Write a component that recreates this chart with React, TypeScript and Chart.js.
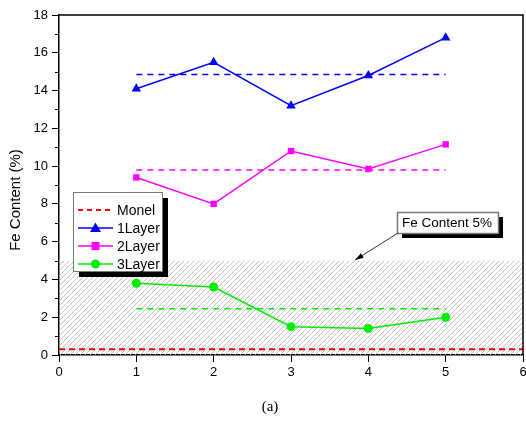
import React, { useEffect, useRef } from "react";
import { Chart, registerables } from "chart.js";

Chart.register(...registerables);

const xPositions = [1, 2, 3, 4, 5];
const layer1 = [14.1, 15.5, 13.2, 14.8, 16.8];
const layer2 = [9.4, 8.0, 10.8, 9.85, 11.15];
const layer3 = [3.8, 3.6, 1.5, 1.4, 2.0];
const mean1 = 14.85;
const mean2 = 9.8;
const mean3 = 2.45;
const monelValue = 0.3;
const limitValue = 5;
const yTitle = "Fe Content (%)";
const annotationText = "Fe Content 5%";
const caption = "(a)";
const FONT = "'Liberation Sans', Arial, sans-serif";

const BLUE = "#0000ff";
const MAGENTA = "#ff00ff";
const GREEN = "#00ee00";
const RED = "#ff0000";

function pts(vals: number[]) {
  return xPositions.map((x, i) => ({ x, y: vals[i] }));
}
function flat(v: number, x0: number, x1: number) {
  return [
    { x: x0, y: v },
    { x: x1, y: v },
  ];
}

const legendItems = [
  { label: "Monel", color: RED, dash: [5, 4], marker: "none" },
  { label: "1Layer", color: BLUE, dash: [], marker: "triangle" },
  { label: "2Layer", color: MAGENTA, dash: [], marker: "rect" },
  { label: "3Layer", color: GREEN, dash: [], marker: "circle" },
];

function drawMarker(ctx: CanvasRenderingContext2D, kind: string, x: number, y: number, color: string) {
  ctx.save();
  ctx.fillStyle = color;
  ctx.beginPath();
  if (kind === "triangle") {
    ctx.moveTo(x, y - 5.5);
    ctx.lineTo(x + 5.5, y + 4);
    ctx.lineTo(x - 5.5, y + 4);
    ctx.closePath();
    ctx.fill();
  } else if (kind === "rect") {
    ctx.fillRect(x - 4, y - 4, 8, 8);
  } else if (kind === "circle") {
    ctx.arc(x, y, 4.5, 0, Math.PI * 2);
    ctx.fill();
  }
  ctx.restore();
}

const decorPlugin = {
  id: "decor",
  beforeDatasetsDraw(chart: any) {
    const { ctx, chartArea, scales } = chart;
    const y5 = scales.y.getPixelForValue(limitValue);
    const y0 = scales.y.getPixelForValue(0);
    const pc = document.createElement("canvas");
    pc.width = 5;
    pc.height = 5;
    const p = pc.getContext("2d")!;
    p.strokeStyle = "#b4b4b4";
    p.lineWidth = 0.8;
    p.beginPath();
    p.moveTo(0, 5);
    p.lineTo(5, 0);
    p.moveTo(-1, 1);
    p.lineTo(1, -1);
    p.moveTo(4, 6);
    p.lineTo(6, 4);
    p.stroke();
    const pattern = ctx.createPattern(pc, "repeat");
    ctx.save();
    ctx.fillStyle = pattern;
    ctx.fillRect(chartArea.left, y5, chartArea.right - chartArea.left, y0 - y5);
    ctx.restore();
  },
  afterDraw(chart: any) {
    const { ctx, chartArea, scales } = chart;
    ctx.save();
    // frame top/right
    ctx.strokeStyle = "#000";
    ctx.lineWidth = 1.5;
    ctx.beginPath();
    ctx.moveTo(chartArea.left, chartArea.top);
    ctx.lineTo(chartArea.right, chartArea.top);
    ctx.lineTo(chartArea.right, chartArea.bottom);
    ctx.stroke();
    // minor y ticks
    ctx.lineWidth = 1;
    ctx.beginPath();
    for (let v = 1; v < 18; v += 2) {
      const y = Math.round(scales.y.getPixelForValue(v)) + 0.5;
      ctx.moveTo(chartArea.left, y);
      ctx.lineTo(chartArea.left - 4, y);
    }
    ctx.stroke();

    // y title
    ctx.save();
    ctx.translate(16, 200);
    ctx.rotate(-Math.PI / 2);
    ctx.fillStyle = "#000";
    ctx.font = `15px ${FONT}`;
    ctx.textAlign = "center";
    ctx.textBaseline = "middle";
    ctx.fillText(yTitle, 0, 0);
    ctx.restore();

    // legend
    const lx = 73, ly = 192, lw = 89, lh = 79;
    ctx.fillStyle = "#000";
    ctx.fillRect(lx + 6, ly + 6, lw, lh);
    ctx.fillStyle = "#fff";
    ctx.fillRect(lx, ly, lw, lh);
    ctx.strokeStyle = "#777";
    ctx.lineWidth = 1;
    ctx.strokeRect(lx + 0.5, ly + 0.5, lw, lh);
    legendItems.forEach((it, i) => {
      const y = 210 + i * 18;
      ctx.strokeStyle = it.color;
      ctx.lineWidth = it.marker === "none" ? 2 : 1.5;
      ctx.setLineDash(it.dash);
      ctx.beginPath();
      ctx.moveTo(78, y);
      ctx.lineTo(113, y);
      ctx.stroke();
      ctx.setLineDash([]);
      drawMarker(ctx, it.marker, 95.5, y, it.color);
      ctx.fillStyle = "#000";
      ctx.font = `14px ${FONT}`;
      ctx.textAlign = "left";
      ctx.textBaseline = "middle";
      ctx.fillText(it.label, 117, y + 1);
    });

    // annotation
    const ax = 397, ay = 212, aw = 101, ah = 21;
    ctx.fillStyle = "#000";
    ctx.fillRect(ax + 5, ay + 5, aw, ah);
    ctx.fillStyle = "#fff";
    ctx.fillRect(ax, ay, aw, ah);
    ctx.strokeStyle = "#777";
    ctx.strokeRect(ax + 0.5, ay + 0.5, aw, ah);
    ctx.fillStyle = "#000";
    ctx.font = `13.5px ${FONT}`;
    ctx.textAlign = "left";
    ctx.textBaseline = "middle";
    ctx.fillText(annotationText, ax + 5, ay + ah / 2 + 1);
    // arrow
    const sx = 398, sy = 233, ex = 355, ey = 260;
    ctx.strokeStyle = "#333";
    ctx.lineWidth = 1;
    ctx.beginPath();
    ctx.moveTo(sx, sy);
    ctx.lineTo(ex, ey);
    ctx.stroke();
    const ang = Math.atan2(ey - sy, ex - sx);
    ctx.fillStyle = "#000";
    ctx.beginPath();
    ctx.moveTo(ex, ey);
    ctx.lineTo(ex - 9 * Math.cos(ang - 0.3), ey - 9 * Math.sin(ang - 0.3));
    ctx.lineTo(ex - 9 * Math.cos(ang + 0.3), ey - 9 * Math.sin(ang + 0.3));
    ctx.closePath();
    ctx.fill();

    // caption
    ctx.fillStyle = "#000";
    ctx.font = `15px 'Liberation Serif', 'Times New Roman', serif`;
    ctx.textAlign = "center";
    ctx.textBaseline = "middle";
    ctx.fillText(caption, 270, 407);
    ctx.restore();
  },
};

export default function App() {
  const ref = useRef<HTMLCanvasElement | null>(null);
  useEffect(() => {
    document.body.style.margin = "0";
    const canvas = ref.current!;
    const lineDs = (label: string, data: any[], color: string, pointStyle: any, radius: number) => ({
      label,
      data,
      borderColor: color,
      backgroundColor: color,
      borderWidth: 1.5,
      pointStyle,
      pointRadius: radius,
      pointBorderWidth: 0,
      showLine: true,
      tension: 0,
    });
    const dashDs = (label: string, data: any[], color: string, width: number, dash: number[]) => ({
      label,
      data,
      borderColor: color,
      backgroundColor: color,
      borderWidth: width,
      borderDash: dash,
      pointRadius: 0,
      showLine: true,
    });
    const chart = new Chart(canvas, {
      type: "scatter",
      data: {
        datasets: [
          dashDs("Monel", flat(monelValue, 0, 6), RED, 2, [6, 4]),
          dashDs("1Layer mean", flat(mean1, 1, 5), BLUE, 1.5, [6, 5]),
          dashDs("2Layer mean", flat(mean2, 1, 5), MAGENTA, 1.5, [6, 5]),
          dashDs("3Layer mean", flat(mean3, 1, 5), GREEN, 1.5, [6, 5]),
          lineDs("1Layer", pts(layer1), BLUE, "triangle", 5.5),
          lineDs("2Layer", pts(layer2), MAGENTA, "rect", 4.5),
          lineDs("3Layer", pts(layer3), GREEN, "circle", 4.5),
        ] as any,
      },
      options: {
        responsive: false,
        animation: false,
        layout: { autoPadding: false, padding: { top: 15, right: 3, left: 0, bottom: 0 } },
        plugins: { legend: { display: false }, tooltip: { enabled: false } },
        scales: {
          x: {
            type: "linear",
            min: 0,
            max: 6,
            ticks: { stepSize: 1, color: "#000", font: { size: 13, family: FONT }, padding: 3 },
            grid: { drawOnChartArea: false, drawTicks: true, tickLength: 7, tickColor: "#000" },
            border: { color: "#000", width: 1.5 },
            afterFit: (s: any) => {
              s.height = 67;
              s.paddingRight = 0;
              s.paddingLeft = 0;
            },
          },
          y: {
            min: 0,
            max: 18,
            ticks: { stepSize: 2, color: "#000", font: { size: 13, family: FONT }, padding: 4 },
            grid: { drawOnChartArea: false, drawTicks: true, tickLength: 7, tickColor: "#000" },
            border: { color: "#000", width: 1.5 },
            afterFit: (s: any) => {
              s.width = 59;
              s.paddingTop = 0;
              s.paddingBottom = 0;
            },
          },
        },
      } as any,
      plugins: [decorPlugin],
    });
    return () => chart.destroy();
  }, []);
  return (
    <div style={{ position: "absolute", left: 0, top: 0, width: 526, height: 422, background: "#fff" }}>
      <canvas ref={ref} width={526} height={422} style={{ display: "block" }} />
    </div>
  );
}
